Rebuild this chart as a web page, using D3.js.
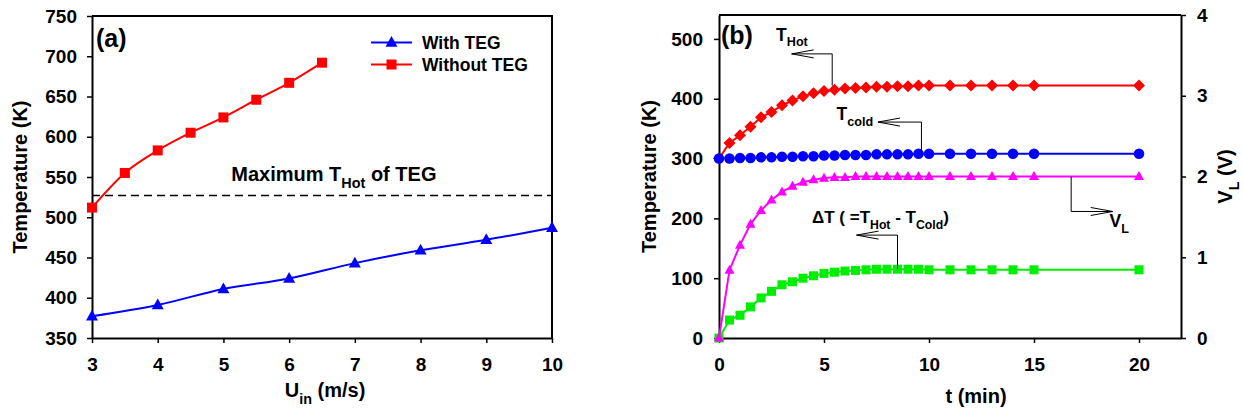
<!DOCTYPE html>
<html>
<head>
<meta charset="utf-8">
<script src="https://cdn.jsdelivr.net/npm/d3@7"></script>
<style>
  body { margin: 0; background: #fff; }
  svg text { font-family: "Liberation Sans", Arial, sans-serif; font-weight: bold; fill: #000; }
  .axis path, .axis line { stroke: #000; }
  .axis path { stroke-width: 2; }
  .axis line { stroke-width: 1.5; }
  .axis text { font-size: 19px; }
</style>
</head>
<body>
<div id="chart"></div>
<script>
// ---- panel (a) data ----
const uWith = [3, 4, 5, 6, 7, 8, 9, 10];
const tWith = [377, 391, 411, 424, 443, 459, 472, 487];
const uWithout = [3, 3.5, 4, 4.5, 5, 5.5, 6, 6.5];
const tWithout = [512, 555, 583, 605, 624, 646, 667, 692];
const maxTHot = 527;
const aXTicks = [3, 4, 5, 6, 7, 8, 9, 10];
const aYTicks = [350, 400, 450, 500, 550, 600, 650, 700, 750];

// ---- panel (b) data ----
const time = [0, 0.5, 1, 1.5, 2, 2.5, 3, 3.5, 4, 4.5, 5, 5.5, 6, 6.5, 7, 7.5, 8, 8.5, 9, 9.5, 10, 11, 12, 13, 14, 15, 20];
const tHot = [300, 326, 339, 353, 369, 378, 389, 397, 404, 409, 413, 415, 417, 418, 419, 420, 420, 421, 421, 422, 422, 422, 422, 422, 422, 422, 422];
const tCold = [300, 300, 301, 301, 302, 302, 303, 303, 304, 304, 305, 305, 306, 306, 306, 307, 307, 307, 307, 308, 308, 308, 308, 308, 308, 308, 308];
const deltaT = [0, 30, 38, 52, 67, 78, 89, 94, 100, 104, 108, 110, 112, 113, 114, 115, 115, 115, 115, 115, 114, 114, 114, 114, 114, 114, 114];
const vLoad = [0, 0.84, 1.15, 1.41, 1.58, 1.71, 1.81, 1.88, 1.93, 1.96, 1.98, 1.99, 1.99, 2.0, 2.0, 2.0, 2.0, 2.0, 2.0, 2.0, 2.0, 2.0, 2.0, 2.0, 2.0, 2.0, 2.0];
const bXTicks = [0, 5, 10, 15, 20];
const bYTicks = [0, 100, 200, 300, 400, 500];
const bY2Ticks = [0, 1, 2, 3, 4];

const width = 1243, height = 415;
const svg = d3.select("#chart").append("svg")
   .attr("width", width)
   .attr("height", height);
svg.append("rect").attr("width", width).attr("height", height).attr("fill", "#fff");

// symbols
const drawMarker = (g, type, x, y, color, size) => {
   if (type === "square") {
      g.append("rect").attr("x", x - size / 2).attr("y", y - size / 2)
         .attr("width", size).attr("height", size).attr("fill", color);
   } else if (type === "triangle") {
      const h = size * 0.9;
      g.append("path")
         .attr("d", `M${x},${y - h * 0.6}L${x + size / 2},${y + h * 0.4}L${x - size / 2},${y + h * 0.4}Z`)
         .attr("fill", color);
   } else if (type === "diamond") {
      const r = size / 2;
      g.append("path")
         .attr("d", `M${x},${y - r}L${x + r},${y}L${x},${y + r}L${x - r},${y}Z`)
         .attr("fill", color);
   } else if (type === "circle") {
      g.append("circle").attr("cx", x).attr("cy", y).attr("r", size / 2).attr("fill", color);
   }
};

const drawSeries = (g, xs, ys, xScale, yScale, color, marker, size, curve) => {
   const pts = xs.map((x, i) => [xScale(x), yScale(ys[i])]);
   g.append("path")
      .attr("d", d3.line().curve(curve || d3.curveLinear)(pts))
      .attr("fill", "none")
      .attr("stroke", color)
      .attr("stroke-width", 2);
   pts.forEach(p => drawMarker(g, marker, p[0], p[1], color, size));
};

// text with subscript parts: [[text, isSub], ...]
const richText = (g, x, y, parts, size, anchor) => {
   const t = g.append("text").attr("x", x).attr("y", y).attr("font-size", size + "px");
   if (anchor) t.attr("text-anchor", anchor);
   let sub = false;
   parts.forEach(p => {
      const span = t.append("tspan").text(p[0]);
      if (p[1] && !sub) { span.attr("dy", size * 0.33).attr("font-size", (size * 0.72) + "px"); sub = true; }
      else if (p[1]) { span.attr("font-size", (size * 0.72) + "px"); }
      else if (!p[1] && sub) { span.attr("dy", -size * 0.33); sub = false; }
   });
   return t;
};

// elbow arrow: tip -> elbow -> end, open arrowhead at tip
const elbowArrow = (g, tip, elbow, end) => {
   g.append("path")
      .attr("d", `M${tip[0]},${tip[1]}L${elbow[0]},${elbow[1]}L${end[0]},${end[1]}`)
      .attr("fill", "none").attr("stroke", "#000").attr("stroke-width", 1);
   const dir = Math.sign(elbow[0] - tip[0]);
   g.append("path")
      .attr("d", `M${tip[0] + dir * 22},${tip[1] - 4}L${tip[0]},${tip[1]}L${tip[0] + dir * 22},${tip[1] + 4}`)
      .attr("fill", "none").attr("stroke", "#000").attr("stroke-width", 1);
};

const fmt = d3.format("d");

// ================= panel (a) =================
{
   const m = { left: 92, right: 552, top: 16, bottom: 338 };
   const x = d3.scaleLinear().domain([3, 10]).range([m.left, m.right]);
   const y = d3.scaleLinear().domain([350, 750]).range([m.bottom, m.top]);
   const g = svg.append("g");

   g.append("g").attr("class", "axis")
      .attr("transform", `translate(0,${m.bottom})`)
      .call(d3.axisBottom(x).tickValues(aXTicks).tickFormat(fmt).tickSize(5).tickPadding(15).tickSizeOuter(0));
   g.append("g").attr("class", "axis")
      .attr("transform", `translate(${m.left},0)`)
      .call(d3.axisLeft(y).tickValues(aYTicks).tickFormat(fmt).tickSize(5).tickPadding(10).tickSizeOuter(0));
   g.append("path")
      .attr("d", `M${m.left},${m.top}H${m.right}V${m.bottom}`)
      .attr("fill", "none").attr("stroke", "#000").attr("stroke-width", 2);

   // max T_hot line
   g.append("line")
      .attr("x1", m.left).attr("x2", m.right)
      .attr("y1", y(maxTHot)).attr("y2", y(maxTHot))
      .attr("stroke", "#000").attr("stroke-width", 1.5).attr("stroke-dasharray", "8,5");
   richText(g, x(5.12), y(545), [["Maximum T", false], ["Hot", true], [" of TEG", false]], 20);

   drawSeries(g, uWithout, tWithout, x, y, "#ff0000", "square", 10, d3.curveMonotoneX);
   drawSeries(g, uWith, tWith, x, y, "#0000ff", "triangle", 12, d3.curveMonotoneX);

   // legend
   const legend = [["With TEG", "#0000ff", "triangle", 12], ["Without TEG", "#ff0000", "square", 10]];
   legend.forEach((d, i) => {
      const ly = 42.5 + i * 22;
      g.append("line").attr("x1", 371).attr("x2", 412).attr("y1", ly).attr("y2", ly)
         .attr("stroke", d[1]).attr("stroke-width", 2);
      drawMarker(g, d[2], 391.5, ly, d[1], d[3]);
      g.append("text").attr("x", 422).attr("y", ly + 6.5).attr("font-size", "17.5px").text(d[0]);
   });

   g.append("text").attr("x", 96).attr("y", 47).attr("font-size", "25px").text("(a)");

   g.append("text")
      .attr("transform", `translate(27,${(m.top + m.bottom) / 2}) rotate(-90)`)
      .attr("text-anchor", "middle").attr("font-size", "20px")
      .text("Temperature (K)");
   richText(g, (m.left + m.right) / 2 + 3, 397, [["U", false], ["in", true], [" (m/s)", false]], 20, "middle");
}

// ================= panel (b) =================
{
   const m = { left: 719, right: 1181, top: 15, bottom: 338 };
   const x = d3.scaleLinear().domain([0, 22]).range([m.left, m.right]);
   const y = d3.scaleLinear().domain([0, 540]).range([m.bottom, m.top]);
   const y2 = d3.scaleLinear().domain([0, 4]).range([m.bottom, m.top]);
   const g = svg.append("g");

   g.append("g").attr("class", "axis")
      .attr("transform", `translate(0,${m.bottom})`)
      .call(d3.axisBottom(x).tickValues(bXTicks).tickFormat(fmt).tickSize(5).tickPadding(15).tickSizeOuter(0));
   g.append("g").attr("class", "axis")
      .attr("transform", `translate(${m.left},0)`)
      .call(d3.axisLeft(y).tickValues(bYTicks).tickFormat(fmt).tickSize(5).tickPadding(11).tickSizeOuter(0));
   g.append("g").attr("class", "axis")
      .attr("transform", `translate(${m.right},0)`)
      .call(d3.axisRight(y2).tickValues(bY2Ticks).tickFormat(fmt).tickSize(5).tickPadding(11).tickSizeOuter(0));
   g.append("line")
      .attr("x1", m.left).attr("x2", m.right).attr("y1", m.top).attr("y2", m.top)
      .attr("stroke", "#000").attr("stroke-width", 2);

   drawSeries(g, time, tHot, x, y, "#ff0000", "diamond", 12);
   drawSeries(g, time, deltaT, x, y, "#00ee00", "square", 9);
   drawSeries(g, time, vLoad, x, y2, "#ff00ff", "triangle", 10);
   drawSeries(g, time, tCold, x, y, "#0000ff", "circle", 10.5);

   // annotations (data coords of left axis)
   elbowArrow(g, [x(3.46), y(475)], [x(5.39), y(475)], [x(5.39), y(422)]);
   richText(g, x(2.72), y(497), [["T", false], ["Hot", true]], 17.5);

   elbowArrow(g, [x(7.57), y(361)], [x(9.64), y(361)], [x(9.64), y(308)]);
   richText(g, x(5.6), y(364), [["T", false], ["cold", true]], 17.5);

   elbowArrow(g, [x(18.75), y(211.5)], [x(16.77), y(211.5)], [x(16.77), y2(2.0)]);
   richText(g, x(18.6), y(186), [["V", false], ["L", true]], 17.5);

   elbowArrow(g, [x(6.55), y(172)], [x(8.5), y(172)], [x(8.5), y(115)]);
   richText(g, x(4.43), y(191.7), [["\u0394T ( =T", false], ["Hot", true], [" - T", false], ["Cold", true], [")", false]], 17);

   g.append("text").attr("x", 721).attr("y", 44).attr("font-size", "25px").text("(b)");

   g.append("text")
      .attr("transform", `translate(656,${(m.top + m.bottom) / 2}) rotate(-90)`)
      .attr("text-anchor", "middle").attr("font-size", "20px")
      .text("Temperature (K)");
   g.append("text").attr("x", 976).attr("y", 403).attr("text-anchor", "middle")
      .attr("font-size", "20px").text("t (min)");
   richText(g.append("g").attr("transform", `translate(1232,${(m.top + m.bottom) / 2}) rotate(-90)`),
      0, 0, [["V", false], ["L", true], [" (V)", false]], 20, "middle");
}
</script>
</body>
</html>
